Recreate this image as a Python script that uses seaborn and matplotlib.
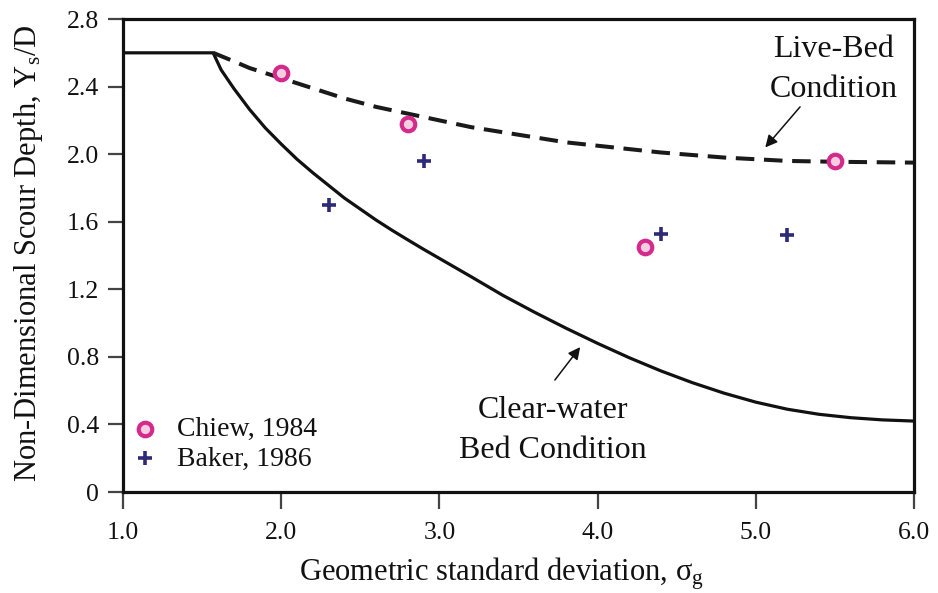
import matplotlib
matplotlib.use("Agg")
import matplotlib.pyplot as plt
import numpy as np
import pandas as pd
import seaborn as sns

# Design curves: scour depth vs. geometric standard deviation
clear_x = [1.0, 1.57, 1.62, 1.7, 1.8, 1.9, 2.0, 2.1, 2.2, 2.3, 2.4, 2.5, 2.6, 2.7, 2.8,
           2.9, 3.0, 3.2, 3.4, 3.6, 3.8, 4.0, 4.2, 4.4, 4.6, 4.8, 5.0, 5.2, 5.4, 5.6,
           5.8, 6.0]
clear_y = [2.60, 2.60, 2.50, 2.39, 2.265, 2.155, 2.06, 1.97, 1.89, 1.815, 1.74, 1.675,
           1.61, 1.55, 1.493, 1.437, 1.383, 1.275, 1.165, 1.065, 0.97, 0.88, 0.795,
           0.717, 0.647, 0.585, 0.532, 0.49, 0.46, 0.44, 0.427, 0.42]

live_x = [1.57, 1.7, 1.8, 1.9, 2.0, 2.2, 2.4, 2.6, 2.8, 3.0, 3.2, 3.4, 3.6, 3.8, 4.0,
          4.2, 4.4, 4.6, 4.8, 5.0, 5.2, 5.5, 6.0]
live_y = [2.60, 2.55, 2.51, 2.48, 2.45, 2.39, 2.33, 2.28, 2.24, 2.20, 2.16, 2.13, 2.10,
          2.07, 2.05, 2.03, 2.01, 1.995, 1.98, 1.97, 1.96, 1.955, 1.95]

# Experimental data
chiew_x = [2.0, 2.8, 4.3, 5.5]
chiew_y = [2.48, 2.18, 1.45, 1.96]
baker_x = [2.3, 2.9, 4.4, 5.2]
baker_y = [1.70, 1.96, 1.53, 1.52]

x_ticks = [1.0, 2.0, 3.0, 4.0, 5.0, 6.0]
x_tick_labels = ["1.0", "2.0", "3.0", "4.0", "5.0", "6.0"]
y_ticks = [0.0, 0.4, 0.8, 1.2, 1.6, 2.0, 2.4, 2.8]
y_tick_labels = ["0", "0.4", "0.8", "1.2", "1.6", "2.0", "2.4", "2.8"]

sns.set_style("ticks")
plt.rcParams["font.family"] = ["Liberation Serif", "DejaVu Serif"]
plt.rcParams["mathtext.fontset"] = "custom"
plt.rcParams["mathtext.rm"] = "Liberation Serif"
plt.rcParams["mathtext.it"] = "Liberation Serif:italic"

fig = plt.figure(figsize=(9.38, 5.93), dpi=100)
ax = fig.add_axes([0.1311, 0.1703, 0.8433, 0.7976])

clear_df = pd.DataFrame({"x": clear_x, "y": clear_y})
live_df = pd.DataFrame({"x": live_x, "y": live_y})
chiew_df = pd.DataFrame({"x": chiew_x, "y": chiew_y})
baker_df = pd.DataFrame({"x": baker_x, "y": baker_y})

sns.lineplot(data=clear_df, x="x", y="y", ax=ax, sort=False, estimator=None,
             color="#111111", linewidth=2.3)
sns.lineplot(data=live_df, x="x", y="y", ax=ax, sort=False, estimator=None,
             color="#1a1a1a", linewidth=2.9)
ax.lines[-1].set_dashes([4.6, 2.4])
for ln in ax.lines:
    ln.set_solid_joinstyle("round")
    ln.set_dash_joinstyle("round")

sns.scatterplot(data=chiew_df, x="x", y="y", ax=ax, marker="o", s=95,
                facecolor="#f4cde0", edgecolor="#d42a8c", linewidth=3.0,
                label="Chiew, 1984", zorder=5)
sns.scatterplot(data=baker_df, x="x", y="y", ax=ax, marker="+", s=110,
                color="#2e2a78", linewidth=2.6, label="Baker, 1986", zorder=5)

ax.set_xlim(1.0, 6.0)
ax.set_ylim(0.0, 2.8)
ax.set_xticks(x_ticks)
ax.set_xticklabels(x_tick_labels)
ax.set_yticks(y_ticks)
ax.set_yticklabels(y_tick_labels)

ax.tick_params(axis="x", direction="out", length=12.5, width=1.6, color="#444444",
               labelsize=18.5, pad=9, labelcolor="#111111")
ax.tick_params(axis="y", direction="out", length=11, width=1.6, color="#444444",
               labelsize=18.5, pad=6, labelcolor="#111111")

for side in ["left", "right", "top", "bottom"]:
    ax.spines[side].set_visible(True)
    ax.spines[side].set_linewidth(2.3)
    ax.spines[side].set_color("#111111")

ax.set_xlabel("Geometric standard deviation, σ$_{\\mathrm{g}}$", fontsize=22, color="#111111")
ax.set_ylabel("Non-Dimensional Scour Depth, Y$_{\\mathrm{s}}$/D", fontsize=22, color="#111111")
ax.xaxis.set_label_coords(0.478, -0.135)
ax.yaxis.set_label_coords(-0.098, 0.505)

# Curve annotations
ax.text(5.49, 2.574, "Live-Bed", ha="center", va="baseline", fontsize=23, color="#111111")
ax.text(5.49, 2.337, "Condition", ha="center", va="baseline", fontsize=23, color="#111111")
ax.annotate("", xy=(5.06, 2.04), xytext=(5.28, 2.28),
            arrowprops=dict(arrowstyle="-|>", color="#111111", lw=1.1,
                            mutation_scale=18, shrinkA=0, shrinkB=0))

ax.text(3.72, 0.438, "Clear-water", ha="center", va="baseline", fontsize=23, color="#111111")
ax.text(3.72, 0.201, "Bed Condition", ha="center", va="baseline", fontsize=23, color="#111111")
ax.annotate("", xy=(3.89, 0.858), xytext=(3.73, 0.663),
            arrowprops=dict(arrowstyle="-|>", color="#111111", lw=1.1,
                            mutation_scale=18, shrinkA=0, shrinkB=0))

leg = ax.legend(loc="center left", bbox_to_anchor=(0.010, 0.101), frameon=False,
                fontsize=20, handlelength=1.0, handletextpad=0.65,
                borderaxespad=0, borderpad=0, labelspacing=0.15)
for t in leg.get_texts():
    t.set_color("#111111")

fig.savefig("out.png", dpi=100, facecolor="white")
